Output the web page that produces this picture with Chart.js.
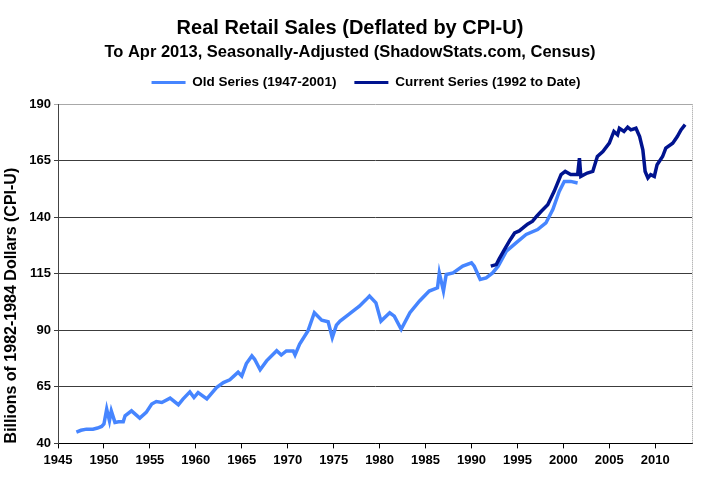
<!DOCTYPE html>
<html>
<head>
<meta charset="utf-8">
<script src="https://cdn.jsdelivr.net/npm/chart.js@4.4.0/dist/chart.umd.min.js"></script>
<style>
  html, body { margin: 0; padding: 0; background: #ffffff; }
  #wrap { width: 721px; height: 489px; }
</style>
</head>
<body>
<div id="wrap"><canvas id="salesChart" width="721" height="489"></canvas></div>
<script>
// values (billions of 1982-84 dollars)
const oldYears = [
  1947.0, 1947.5, 1948.1, 1948.8, 1949.3, 1949.75, 1950.0, 1950.3, 1950.6, 1950.8,
  1951.2, 1951.6, 1952.1, 1952.3, 1953.0, 1953.9, 1954.6, 1955.2, 1955.7, 1956.3,
  1957.2, 1958.1, 1958.6, 1959.35, 1959.8, 1960.25, 1961.2, 1962.25, 1963.0, 1963.7,
  1964.6, 1965.0, 1965.5, 1966.1, 1966.4, 1967.0, 1967.7, 1968.8, 1969.3, 1969.85,
  1970.6, 1970.8, 1971.3, 1972.2, 1972.9, 1973.7, 1974.4, 1974.85, 1975.3, 1975.7,
  1976.4, 1977.1, 1977.8, 1978.5, 1978.9, 1979.6, 1980.15, 1981.1, 1981.6, 1982.35,
  1983.3, 1984.35, 1985.4, 1986.3, 1986.5, 1986.95, 1987.25, 1988.0, 1989.05, 1990.0,
  1990.3, 1990.95, 1991.6, 1992.3, 1992.9, 1993.8, 1994.85, 1995.95, 1997.2, 1998.1,
  1998.85, 1999.55, 2000.1, 2000.8, 2001.55
];
const oldValues = [
  45.0, 45.8, 46.3, 46.3, 46.8, 47.5, 48.6, 55.2, 50.0, 54.4,
  49.3, 49.6, 49.6, 52.2, 54.4, 51.2, 53.7, 57.4, 58.5, 58.1,
  60.0, 57.1, 59.6, 62.8, 60.3, 62.5, 59.7, 64.7, 66.9, 68.1,
  71.5, 69.8, 75.3, 78.7, 77.2, 72.6, 76.5, 81.0, 79.1, 80.9,
  80.9, 79.1, 83.9, 89.7, 97.8, 94.5, 93.8, 86.8, 92.3, 94.1,
  96.3, 98.5, 100.7, 103.5, 105.2, 102.2, 94.1, 97.8, 96.3, 90.5,
  97.8, 103.0, 107.4, 108.8, 115.4, 107.4, 114.7, 115.4, 118.4, 119.9,
  118.4, 112.5, 113.2, 115.4, 118.4, 125.0, 128.7, 132.4, 134.6, 137.5,
  143.4, 151.5, 155.9, 155.9, 155.2
];

const currentYears = [
  1992.1, 1992.7, 1993.0, 1993.6, 1994.2, 1994.7, 1995.2, 1995.6, 1996.1, 1996.65,
  1997.1, 1997.6, 1998.3, 1999.0, 1999.75, 2000.2, 2000.8, 2001.55, 2001.75, 2001.9,
  2002.6, 2003.2, 2003.7, 2004.3, 2005.0, 2005.5, 2005.9, 2006.1, 2006.6, 2007.0,
  2007.35, 2007.9, 2008.3, 2008.65, 2008.9, 2009.2, 2009.5, 2009.9, 2010.2, 2010.8,
  2011.15, 2011.9, 2012.4, 2012.8, 2013.25
];
const currentValues = [
  118.4, 119.1, 121.5, 125.8, 130.0, 133.1, 134.0, 135.3, 137.0, 138.3,
  140.5, 142.7, 145.6, 151.5, 158.9, 160.3, 158.9, 158.9, 166.2, 158.1,
  159.6, 160.3, 166.9, 169.1, 172.8, 178.0, 176.5, 179.4, 178.0, 179.9,
  178.7, 179.4, 175.7, 169.9, 160.3, 157.4, 158.9, 158.1, 163.3, 166.9,
  170.6, 172.8, 175.7, 178.7, 181.0
];

const yearTicks = [1945, 1950, 1955, 1960, 1965, 1970, 1975, 1980, 1985, 1990, 1995, 2000, 2005, 2010];
const valueTicks = [40, 65, 90, 115, 140, 165, 190];

const oldColor = "#4685ff";
const currentColor = "#00138f";
const fontFamily = "'Liberation Sans', Arial, sans-serif";

function toPoints(xs, ys) {
    return xs.map(function (x, i) { return { x: x, y: ys[i] }; });
}

// dotted grey frame line on the right side of the plot
const rightEdge = {
    id: "rightEdge",
    afterDraw: function (chart) {
        const a = chart.chartArea;
        const ctx = chart.ctx;
        ctx.save();
        ctx.strokeStyle = "#9a9a9a";
        ctx.lineWidth = 1;
        ctx.setLineDash([1, 1]);
        ctx.beginPath();
        ctx.moveTo(Math.round(a.right) + 0.5, a.top);
        ctx.lineTo(Math.round(a.right) + 0.5, a.bottom);
        ctx.stroke();
        ctx.restore();
    }
};

// a bit more room under the legend, and nudge it right like the original
const legendNudge = {
    id: "legendNudge",
    beforeInit: function (chart) {
        const lg = chart.legend;
        if (!lg) return;
        const fit = lg.fit;
        lg.fit = function () {
            fit.call(this);
            this.height += 5;
        };
    },
    afterLayout: function (chart) {
        if (!chart.legend) return;
        chart.legend.left += 16;
        chart.legend.right += 16;
    }
};

new Chart(document.getElementById("salesChart"), {
    type: "line",
    data: {
        datasets: [{
            label: "Old Series (1947-2001)",
            data: toPoints(oldYears, oldValues),
            borderColor: oldColor,
            backgroundColor: oldColor,
            borderWidth: 3.5,
            pointRadius: 0,
            tension: 0,
            order: 1
        }, {
            label: "Current Series (1992 to Date)",
            data: toPoints(currentYears, currentValues),
            borderColor: currentColor,
            backgroundColor: currentColor,
            borderWidth: 3.5,
            pointRadius: 0,
            tension: 0,
            order: 0
        }]
    },
    options: {
        responsive: false,
        animation: false,
        devicePixelRatio: 1,
        layout: {
            padding: { left: 8, right: 29, top: 0, bottom: 17 }
        },
        plugins: {
            title: {
                display: true,
                text: "Real Retail Sales (Deflated by CPI-U)",
                color: "#000",
                font: { family: fontFamily, size: 20, weight: "bold" },
                padding: { top: 16, bottom: 2 }
            },
            subtitle: {
                display: true,
                text: "To Apr 2013, Seasonally-Adjusted (ShadowStats.com, Census)",
                color: "#000",
                font: { family: fontFamily, size: 16.5, weight: "bold" },
                padding: { top: 1, bottom: -5 }
            },
            legend: {
                position: "top",
                labels: {
                    color: "#000",
                    font: { family: fontFamily, size: 13.5, weight: "bold" },
                    boxWidth: 34,
                    boxHeight: 3,
                    padding: 18,
                    sort: function (a, b) { return a.datasetIndex - b.datasetIndex; },
                    generateLabels: function (chart) {
                        const items = Chart.defaults.plugins.legend.labels.generateLabels(chart);
                        items.forEach(function (it) { it.lineWidth = 0; });
                        return items;
                    }
                }
            },
            tooltip: { enabled: false }
        },
        scales: {
            x: {
                type: "linear",
                min: 1945,
                max: 2014,
                afterBuildTicks: function (scale) {
                    scale.ticks = yearTicks.map(function (v) { return { value: v }; });
                },
                grid: {
                    drawOnChartArea: false,
                    drawTicks: true,
                    tickLength: 5,
                    color: "#000"
                },
                border: { color: "#000", width: 1 },
                ticks: {
                    color: "#000",
                    padding: 4,
                    maxRotation: 0,
                    font: { family: fontFamily, size: 13, weight: "bold" },
                    callback: function (v) { return String(v); }
                }
            },
            y: {
                min: 40,
                max: 190,
                afterBuildTicks: function (scale) {
                    scale.ticks = valueTicks.map(function (v) { return { value: v }; });
                },
                afterFit: function (scale) { scale.width = 50; },
                grid: {
                    drawTicks: true,
                    tickLength: 4,
                    color: function (ctx) {
                        return ctx.tick && ctx.tick.value === 190 ? "#a8a8a8" : "#3c3c3c";
                    }
                },
                border: { display: true, color: "#444", width: 1 },
                ticks: {
                    color: "#000",
                    padding: 3,
                    font: { family: fontFamily, size: 13, weight: "bold" }
                },
                title: {
                    display: true,
                    text: "Billions of 1982-1984 Dollars (CPI-U)",
                    color: "#000",
                    align: "start",
                    font: { family: fontFamily, size: 16, weight: "bold" },
                    padding: { top: -6.5, bottom: 0 }
                }
            }
        }
    },
    plugins: [rightEdge, legendNudge]
});
</script>
</body>
</html>
